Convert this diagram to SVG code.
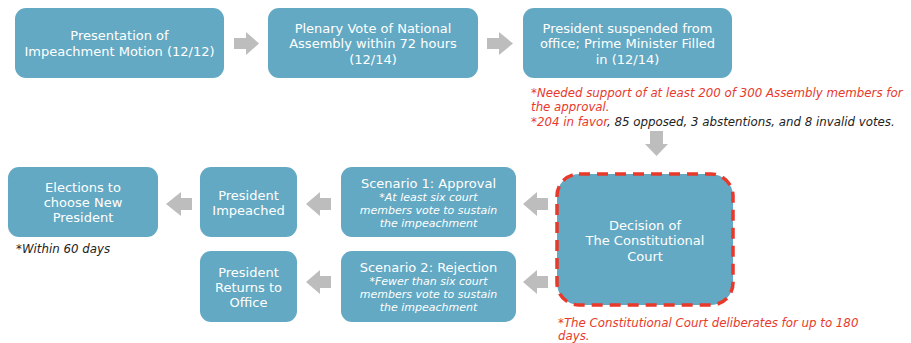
<svg xmlns="http://www.w3.org/2000/svg" width="911" height="343" viewBox="0 0 911 343">
  <style>
    .box { fill: #63a9c3; }
    .court { fill: #63a9c3; stroke: #e8392b; stroke-width: 3.5; stroke-dasharray: 11 7; }
    .lbl { font-family: "DejaVu Sans", "Liberation Sans", sans-serif; font-size: 13px; fill: #ffffff; text-anchor: middle; }
    .sub { font-family: "DejaVu Sans", "Liberation Sans", sans-serif; font-size: 11px; font-style: italic; fill: #ffffff; text-anchor: middle; }
    .note { font-family: "DejaVu Sans", "Liberation Sans", sans-serif; font-size: 11.8px; font-style: italic; fill: #e8392b; }
    .dark { fill: #222222; }
    .arrow { fill: #bdbdbd; }
  </style>

  <!-- top row -->
  <g id="motion">
    <rect class="box" x="15" y="8" width="209" height="70" rx="11"/>
    <text class="lbl" x="119.5" y="40">Presentation of</text>
    <text class="lbl" x="119.5" y="56">Impeachment Motion (12/12)</text>
  </g>
  <g id="plenary-vote">
    <rect class="box" x="268" y="8" width="210" height="70" rx="11"/>
    <text class="lbl" x="373" y="33">Plenary Vote of National</text>
    <text class="lbl" x="373" y="48">Assembly within 72 hours</text>
    <text class="lbl" x="373" y="64">(12/14)</text>
  </g>
  <g id="suspended">
    <rect class="box" x="523" y="8" width="209" height="70" rx="11"/>
    <text class="lbl" x="627.5" y="33">President suspended from</text>
    <text class="lbl" x="627.5" y="48">office; Prime Minister Filled</text>
    <text class="lbl" x="627.5" y="64">in (12/14)</text>
  </g>

  <g id="vote-note">
    <text class="note" x="531" y="97">*Needed support of at least 200 of 300 Assembly members for</text>
    <text class="note" x="531" y="111">the approval.</text>
    <text class="note" x="531" y="126">*204 in favor<tspan class="dark">, 85 opposed, 3 abstentions, and 8 invalid votes.</tspan></text>
  </g>

  <!-- court decision -->
  <g id="court">
    <rect class="court" x="557" y="174" width="176" height="131" rx="22"/>
    <text class="lbl" x="645" y="230">Decision of</text>
    <text class="lbl" x="645" y="245">The Constitutional</text>
    <text class="lbl" x="645" y="261">Court</text>
  </g>
  <g id="court-note">
    <text class="note" x="558" y="327">*The Constitutional Court deliberates for up to 180</text>
    <text class="note" x="558" y="340">days.</text>
  </g>

  <!-- scenarios -->
  <g id="scenario-approval">
    <rect class="box" x="341" y="167" width="175" height="70" rx="11"/>
    <text class="lbl" x="428.5" y="188">Scenario 1: Approval</text>
    <text class="sub" x="428.5" y="201">*At least six court</text>
    <text class="sub" x="428.5" y="214">members vote to sustain</text>
    <text class="sub" x="428.5" y="227">the impeachment</text>
  </g>
  <g id="scenario-rejection">
    <rect class="box" x="341" y="251" width="175" height="71" rx="11"/>
    <text class="lbl" x="428.5" y="272">Scenario 2: Rejection</text>
    <text class="sub" x="428.5" y="285">*Fewer than six court</text>
    <text class="sub" x="428.5" y="298">members vote to sustain</text>
    <text class="sub" x="428.5" y="311">the impeachment</text>
  </g>

  <!-- outcomes -->
  <g id="impeached">
    <rect class="box" x="200" y="167" width="97" height="70" rx="11"/>
    <text class="lbl" x="248.5" y="200">President</text>
    <text class="lbl" x="248.5" y="215">Impeached</text>
  </g>
  <g id="returns">
    <rect class="box" x="200" y="251" width="97" height="71" rx="11"/>
    <text class="lbl" x="248.5" y="277">President</text>
    <text class="lbl" x="248.5" y="292">Returns to</text>
    <text class="lbl" x="248.5" y="307">Office</text>
  </g>
  <g id="elections">
    <rect class="box" x="8" y="167" width="150" height="70" rx="11"/>
    <text class="lbl" x="83" y="192">Elections to</text>
    <text class="lbl" x="83" y="207">choose New</text>
    <text class="lbl" x="83" y="222">President</text>
  </g>
  <g id="elections-note">
    <text class="note dark" x="16" y="253">*Within 60 days</text>
  </g>

  <!-- block arrows -->
  <g id="connectors">
    <polygon class="arrow" points="234,38 246,38 246,32 259,43.5 246,55 246,49 234,49"/>
    <polygon class="arrow" points="487,38 499,38 499,32 513,43.5 499,55 499,49 487,49"/>
    <polygon class="arrow" points="650,131 663,131 663,144 668,144 656.5,156 645,144 650,144"/>
    <polygon class="arrow" points="548,198 537,198 537,192 523,204 537,216 537,210 548,210"/>
    <polygon class="arrow" points="548,276 537,276 537,270 523,282 537,294 537,288 548,288"/>
    <polygon class="arrow" points="331,198 320,198 320,192 306,204 320,216 320,210 331,210"/>
    <polygon class="arrow" points="331,276 320,276 320,270 306,282 320,294 320,288 331,288"/>
    <polygon class="arrow" points="192,198 181,198 181,192 166,204 181,216 181,210 192,210"/>
  </g>
</svg>
